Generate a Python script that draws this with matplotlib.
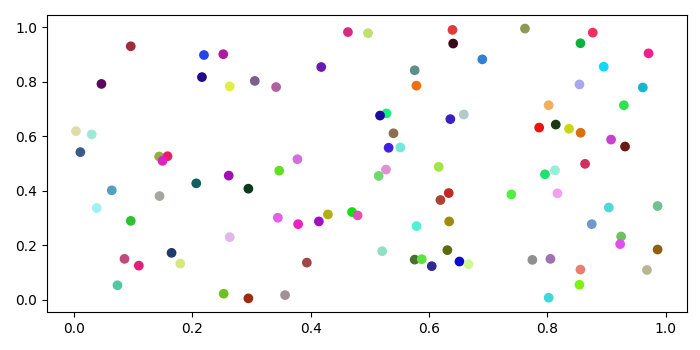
import matplotlib
matplotlib.use("Agg")
import matplotlib.pyplot as plt

# point positions
x = [0.0964, 0.0469, 0.220, 0.2526, 0.2166, 0.2635, 0.3058, 0.0039, 0.0305, 0.0113,
     0.1443, 0.1585, 0.150, 0.4631, 0.497, 0.6396, 0.6408, 0.690, 0.418, 0.5758,
     0.3418, 0.5787, 0.528, 0.5173, 0.636, 0.6587, 0.540, 0.5318, 0.5516, 0.3778,
     0.6164, 0.762, 0.8765, 0.8557, 0.9707, 0.895, 0.854, 0.961, 0.802, 0.929,
     0.786, 0.814, 0.8364, 0.856, 0.9074, 0.931, 0.8635, 0.2618, 0.207, 0.295,
     0.0643, 0.145, 0.0389, 0.0964, 0.2635, 0.1653, 0.0858, 0.110, 0.180, 0.0739,
     0.2533, 0.295, 0.347, 0.5274, 0.515, 0.6333, 0.6193, 0.3447, 0.379, 0.414,
     0.4293, 0.470, 0.4794, 0.634, 0.579, 0.521, 0.631, 0.5758, 0.5877, 0.6046,
     0.6514, 0.6667, 0.3937, 0.357, 0.8127, 0.7958, 0.739, 0.8168, 0.9036, 0.986,
     0.8748, 0.9244, 0.9227, 0.986, 0.7745, 0.805, 0.8557, 0.968, 0.854, 0.802]
y = [0.930, 0.792, 0.898, 0.901, 0.817, 0.783, 0.803, 0.619, 0.607, 0.542,
     0.526, 0.527, 0.510, 0.982, 0.978, 0.990, 0.940, 0.882, 0.854, 0.842,
     0.7805, 0.7857, 0.684, 0.676, 0.663, 0.680, 0.611, 0.558, 0.559, 0.516,
     0.488, 0.995, 0.980, 0.941, 0.904, 0.855, 0.790, 0.779, 0.714, 0.714,
     0.632, 0.643, 0.6275, 0.613, 0.588, 0.5625, 0.499, 0.456, 0.4276, 0.408,
     0.402, 0.381, 0.337, 0.290, 0.2305, 0.1728, 0.1507, 0.126, 0.1335, 0.054,
     0.023, 0.006, 0.474, 0.478, 0.4548, 0.392, 0.3665, 0.3015, 0.278, 0.288,
     0.3136, 0.3224, 0.310, 0.288, 0.271, 0.179, 0.1827, 0.148, 0.1496, 0.124,
     0.141, 0.131, 0.137, 0.018, 0.4754, 0.4607, 0.387, 0.391, 0.339, 0.3445,
     0.278, 0.2327, 0.2048, 0.185, 0.147, 0.1507, 0.1114, 0.110, 0.056, 0.0085]
colors = ["#9e2d3c", "#5a0a5e", "#2244ee", "#b0199e", "#220a88", "#e0f040", "#7a5f90", "#e0dcaa", "#a0e8d8", "#3a5a8a",
          "#90b040", "#f01a6a", "#e020c0", "#d82a80", "#c0e070", "#e03a3a", "#3a0818", "#3080d8", "#6a1ab0", "#5a9088",
          "#b060a0", "#f07010", "#10f080", "#1a0aa0", "#3a20c0", "#b0ccc8", "#8a7050", "#4020e0", "#70e8e0", "#d070d8",
          "#a0e840", "#909858", "#f03060", "#10b040", "#f0208a", "#10d8f8", "#a8a8e8", "#10b8d0", "#f0b060", "#30e050",
          "#f01010", "#1a3a10", "#c8d810", "#d87010", "#c840d0", "#6a1a10", "#d03060", "#a010b0", "#106060", "#0a3a1a",
          "#50a0c0", "#a0a8a0", "#a0f0f0", "#30c030", "#e0b8e8", "#203a70", "#c04a7a", "#e0207a", "#d8e880", "#50c8a0",
          "#70c020", "#a02a10", "#60e020", "#e090d0", "#70d870", "#c02a20", "#b04030", "#e060e8", "#f020c0", "#a010c0",
          "#b0b010", "#10e010", "#e050b0", "#a08a10", "#50f0d8", "#90e0c8", "#5a6a10", "#4a7030", "#60e040", "#302890",
          "#0a0ad0", "#d0f890", "#a04848", "#a09098", "#90f0d8", "#20e070", "#50f040", "#f0a0f0", "#50d8d8", "#70c090",
          "#7098c8", "#70c060", "#e050e8", "#906010", "#909090", "#a070b0", "#e88070", "#b8b890", "#80f010", "#40d8d8"]

fig, ax = plt.subplots(figsize=(7, 3.5), dpi=100)
ax.scatter(x, y, c=colors)
fig.subplots_adjust(left=0.067, right=0.981, top=0.957, bottom=0.109)
fig.savefig("out.png")
